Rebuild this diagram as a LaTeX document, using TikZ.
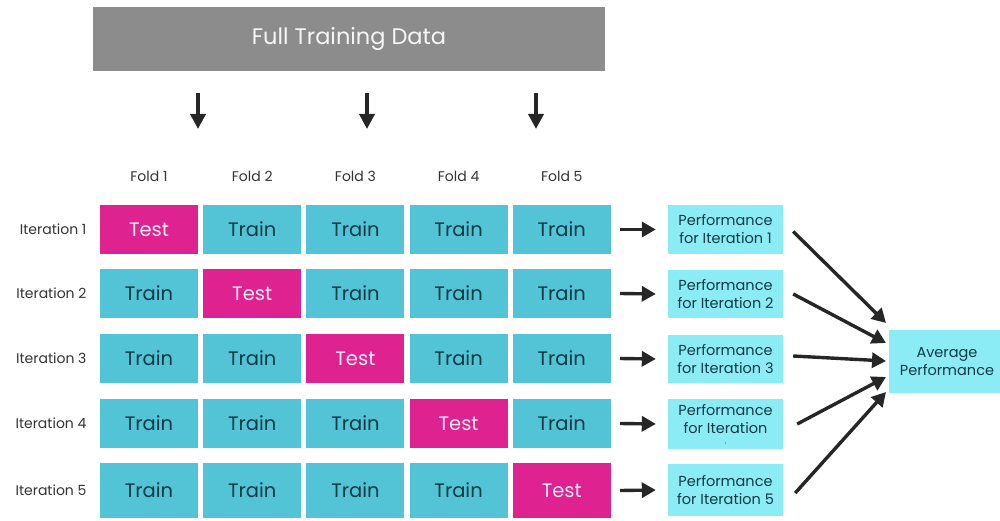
\documentclass[tikz,border=0pt]{standalone}
\usepackage{fontspec}
\setmainfont{Poppins}
\usetikzlibrary{arrows.meta}
\definecolor{teal}{RGB}{82,196,214}
\definecolor{mag}{RGB}{222,34,144}
\definecolor{perf}{RGB}{140,236,246}
\definecolor{dtext}{RGB}{14,58,70}
\definecolor{grayb}{RGB}{140,140,140}
\tikzset{
  cell/.style={rectangle, inner sep=0pt, minimum width=98pt, minimum height=49pt, font=\fontsize{19.5}{20}\selectfont},
  trainc/.style={cell, fill=teal, text=dtext},
  testc/.style={cell, fill=mag, text=white!92!mag},
  perfbox/.style={rectangle, fill=perf, text=dtext, inner sep=0pt, minimum width=115pt, minimum height=48pt, align=center, font=\fontsize{14.5}{18}\selectfont},
  lab/.style={font=\fontsize{14}{16}\selectfont, text=black!80},
  arr/.style={-{Triangle[length=14pt,width=15pt]}, line width=3.4pt, black!85},
  darr/.style={-{Triangle[length=15pt,width=15pt]}, line width=3.6pt, black!85}
}
\begin{document}
\begin{tikzpicture}[x=1pt,y=-1pt]
\useasboundingbox (0,0) rectangle (1000,521);
\begin{scope}
\clip (0,0) rectangle (1000,521);
\node[fill=grayb, minimum width=512pt, minimum height=64pt, inner sep=0pt, text=white!92!grayb, font=\fontsize{22.5}{24}\selectfont] (full) at (349,39) {Full Training Data};
% down arrows
\coordinate (d1s) at (198,93); \coordinate (d1e) at (198,129);
\coordinate (d2s) at (367,93); \coordinate (d2e) at (367,129);
\coordinate (d3s) at (536,93); \coordinate (d3e) at (536,129);
\draw[darr] (d1s) -- (d1e);
\draw[darr] (d2s) -- (d2e);
\draw[darr] (d3s) -- (d3e);
% fold labels
\foreach \i in {1,...,5} {
  \node[lab] (fold\i) at ({149+(\i-1)*103.2},176) {Fold \i};
}
% rows
\def\rowy{{229.5,293.5,358.5,423.5,490.5}}
\foreach \r in {1,...,5} {
  \pgfmathsetmacro{\yy}{\rowy[\r-1]}
  \pgfmathsetmacro{\hh}{\r==5 ? 55 : 49}
  \node[lab, anchor=east] (it\r) at (90,\yy) {Iteration \r};
  \foreach \c in {1,...,5} {
    \ifnum\c=\r
      \node[testc, minimum height=\hh pt] (c\r\c) at ({149+(\c-1)*103.2},\yy) {Test};
    \else
      \node[trainc, minimum height=\hh pt] (c\r\c) at ({149+(\c-1)*103.2},\yy) {Train};
    \fi
  }
}
\node[perfbox] (p1) at (725.5,229.5) {Performance\\for Iteration 1};
\node[perfbox] (p2) at (725.5,294) {Performance\\for Iteration 2};
\node[perfbox] (p3) at (725.5,359) {Performance\\for Iteration 3};
\node[perfbox, minimum height=50pt] (p4) at (725.5,424) {Performance\\for Iteration\\[-8pt]{\fontsize{5}{5}\selectfont ,}};
\node[perfbox, minimum height=52pt] (p5) at (725.5,490) {Performance\\for Iteration 5};
\node[perfbox, minimum width=116pt, minimum height=63pt, align=center] (avg) at (947,361.5) {Average\\Performance};
\foreach \r in {1,...,5} {
  \draw[arr] ([xshift=9pt]c\r5.east) -- ([xshift=-12pt]p\r.west);
}
\coordinate (a1) at (886,323);
\coordinate (a2) at (886,343);
\coordinate (a3) at (886,361);
\coordinate (a4) at (886,377);
\coordinate (a5) at (886,392);
\draw[arr] ([xshift=10pt,yshift=-2pt]p1.east) -- (a1);
\draw[arr] ([xshift=10pt]p2.east) -- (a2);
\draw[arr] ([xshift=10pt,yshift=3pt]p3.east) -- (a3);
\draw[arr] ([xshift=14pt]p4.east) -- (a4);
\draw[arr] ([xshift=12pt,yshift=-3pt]p5.east) -- (a5);
\end{scope}
\end{tikzpicture}
\end{document}
